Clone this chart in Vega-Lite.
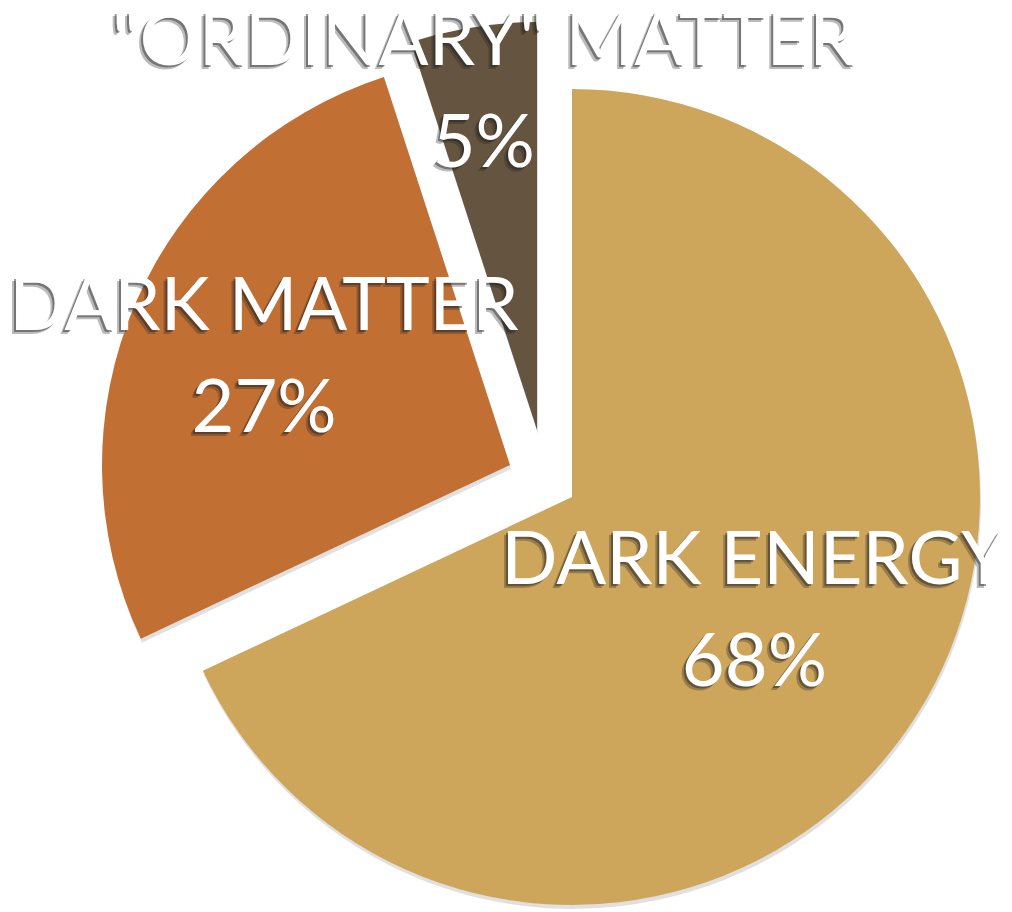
{
  "$schema": "https://vega.github.io/schema/vega-lite/v6.json",
  "autosize": "none",
  "width": 816,
  "height": 816,
  "padding": {"left": 164, "top": 89, "right": 32, "bottom": 7},
  "background": "white",
  "config": {"view": {"stroke": null}},
  "data": {
    "values": [
      {"category": "DARK ENERGY", "label": "DARK ENERGY\n68%", "value": 68, "order": 1},
      {"category": "DARK MATTER", "label": "DARK MATTER\n27%", "value": 27, "order": 2},
      {"category": "ORDINARY", "label": "\"ORDINARY\" MATTER\n5%", "value": 5, "order": 3}
    ]
  },
  "encoding": {
    "theta": {"field": "value", "type": "quantitative", "stack": true},
    "order": {"field": "order", "type": "quantitative"}
  },
  "layer": [
    {
      "mark": {"type": "arc", "xOffset": 1, "yOffset": 4, "fill": "#000000"},
      "encoding": {
        "opacity": {"condition": {"test": "datum.category === 'DARK ENERGY'", "value": 0.12}, "value": 0}
      }
    },
    {
      "mark": {"type": "arc", "xOffset": -61, "yOffset": -28, "fill": "#000000"},
      "encoding": {
        "opacity": {"condition": {"test": "datum.category === 'DARK MATTER'", "value": 0.12}, "value": 0}
      }
    },
    {
      "mark": {"type": "arc", "xOffset": -34, "yOffset": -63, "fill": "#000000"},
      "encoding": {
        "opacity": {"condition": {"test": "datum.category === 'ORDINARY'", "value": 0.12}, "value": 0}
      }
    },
    {
      "mark": {"type": "arc", "xOffset": 0, "yOffset": 0},
      "encoding": {
        "color": {"field": "category", "type": "nominal", "scale": {"domain": ["DARK ENERGY", "DARK MATTER", "ORDINARY"], "range": ["#CEA65B", "#C26F33", "#65543F"]}, "legend": null},
        "opacity": {"condition": {"test": "datum.category === 'DARK ENERGY'", "value": 1}, "value": 0}
      }
    },
    {
      "mark": {"type": "arc", "xOffset": -62, "yOffset": -32},
      "encoding": {
        "color": {"field": "category", "type": "nominal", "legend": null},
        "opacity": {"condition": {"test": "datum.category === 'DARK MATTER'", "value": 1}, "value": 0}
      }
    },
    {
      "mark": {"type": "arc", "xOffset": -35, "yOffset": -67},
      "encoding": {
        "color": {"field": "category", "type": "nominal", "legend": null},
        "opacity": {"condition": {"test": "datum.category === 'ORDINARY'", "value": 1}, "value": 0}
      }
    },
    {
      "mark": {"type": "text", "radius": 216, "xOffset": 0, "yOffset": 0, "dx": -4, "dy": -47, "font": "Lato", "fontSize": 74, "lineBreak": "\n", "lineHeight": 102, "align": "center", "baseline": "middle", "fill": "#222222"},
      "encoding": {
        "text": {"field": "label", "type": "nominal"},
        "opacity": {"condition": {"test": "datum.category === 'DARK ENERGY'", "value": 0.3}, "value": 0}
      }
    },
    {
      "mark": {"type": "text", "radius": 268, "xOffset": -62, "yOffset": -32, "dx": -4, "dy": -47, "font": "Lato", "fontSize": 74, "lineBreak": "\n", "lineHeight": 102, "align": "center", "baseline": "middle", "fill": "#222222"},
      "encoding": {
        "text": {"field": "label", "type": "nominal"},
        "opacity": {"condition": {"test": "datum.category === 'DARK MATTER'", "value": 0.3}, "value": 0}
      }
    },
    {
      "mark": {"type": "text", "radius": 340, "xOffset": -35, "yOffset": -67, "dx": -4, "dy": -47, "font": "Lato", "fontSize": 74, "lineBreak": "\n", "lineHeight": 102, "align": "center", "baseline": "middle", "fill": "#222222"},
      "encoding": {
        "text": {"field": "label", "type": "nominal"},
        "opacity": {"condition": {"test": "datum.category === 'ORDINARY'", "value": 0.3}, "value": 0}
      }
    },
    {
      "mark": {"type": "text", "radius": 216, "xOffset": 0, "yOffset": 0, "dx": -2, "dy": -49, "font": "Lato", "fontSize": 74, "lineBreak": "\n", "lineHeight": 102, "align": "center", "baseline": "middle", "fill": "#222222"},
      "encoding": {
        "text": {"field": "label", "type": "nominal"},
        "opacity": {"condition": {"test": "datum.category === 'DARK ENERGY'", "value": 0.45}, "value": 0}
      }
    },
    {
      "mark": {"type": "text", "radius": 268, "xOffset": -62, "yOffset": -32, "dx": -2, "dy": -49, "font": "Lato", "fontSize": 74, "lineBreak": "\n", "lineHeight": 102, "align": "center", "baseline": "middle", "fill": "#222222"},
      "encoding": {
        "text": {"field": "label", "type": "nominal"},
        "opacity": {"condition": {"test": "datum.category === 'DARK MATTER'", "value": 0.45}, "value": 0}
      }
    },
    {
      "mark": {"type": "text", "radius": 340, "xOffset": -35, "yOffset": -67, "dx": -2, "dy": -49, "font": "Lato", "fontSize": 74, "lineBreak": "\n", "lineHeight": 102, "align": "center", "baseline": "middle", "fill": "#222222"},
      "encoding": {
        "text": {"field": "label", "type": "nominal"},
        "opacity": {"condition": {"test": "datum.category === 'ORDINARY'", "value": 0.45}, "value": 0}
      }
    },
    {
      "mark": {"type": "text", "radius": 216, "xOffset": 0, "yOffset": 0, "dy": -51, "font": "Lato", "fontSize": 74, "lineBreak": "\n", "lineHeight": 102, "align": "center", "baseline": "middle", "fill": "white"},
      "encoding": {
        "text": {"field": "label", "type": "nominal"},
        "opacity": {"condition": {"test": "datum.category === 'DARK ENERGY'", "value": 1}, "value": 0}
      }
    },
    {
      "mark": {"type": "text", "radius": 268, "xOffset": -62, "yOffset": -32, "dy": -51, "font": "Lato", "fontSize": 74, "lineBreak": "\n", "lineHeight": 102, "align": "center", "baseline": "middle", "fill": "white"},
      "encoding": {
        "text": {"field": "label", "type": "nominal"},
        "opacity": {"condition": {"test": "datum.category === 'DARK MATTER'", "value": 1}, "value": 0}
      }
    },
    {
      "mark": {"type": "text", "radius": 340, "xOffset": -35, "yOffset": -67, "dy": -51, "font": "Lato", "fontSize": 74, "lineBreak": "\n", "lineHeight": 102, "align": "center", "baseline": "middle", "fill": "white"},
      "encoding": {
        "text": {"field": "label", "type": "nominal"},
        "opacity": {"condition": {"test": "datum.category === 'ORDINARY'", "value": 1}, "value": 0}
      }
    }
  ]
}
